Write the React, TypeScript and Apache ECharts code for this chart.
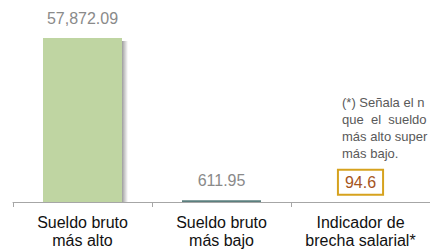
import React, { useEffect, useRef } from "react";
import * as echarts from "echarts";

const categories = ["Sueldo bruto\nmás alto", "Sueldo bruto\nmás bajo", "Indicador de\nbrecha salarial*"];
const values = [57872.09, 611.95, 94.6];
const valueLabels = ["57,872.09", "611.95", "94.6"];
const noteLines = ["(*) Señala el n", "que  el  sueldo", "más alto super", "más bajo."];

const FONT = "'Liberation Sans', Arial, sans-serif";
const BAR_W = 79;

export default function App() {
  const ref = useRef<HTMLDivElement>(null);
  useEffect(() => {
    if (!ref.current) return;
    const chart = echarts.init(ref.current, undefined, { renderer: "svg" });
    const grayLabel = {
      show: true,
      position: "top",
      distance: 12,
      fontSize: 16,
      fontFamily: FONT,
      color: "#8a8a8a",
    };
    chart.setOption({
      animation: false,
      grid: { left: 13, width: 420, top: 38, bottom: 48 },
      xAxis: {
        type: "category",
        data: categories,
        axisLine: { lineStyle: { color: "#a6a6a6", width: 1 } },
        axisTick: { show: true, length: 5, lineStyle: { color: "#a6a6a6" } },
        axisLabel: {
          fontSize: 16,
          fontFamily: FONT,
          color: "#111",
          lineHeight: 18,
          margin: 11,
          interval: 0,
        },
      },
      yAxis: { type: "value", min: 0, max: values[0], show: false, splitLine: { show: false } },
      series: [
        {
          type: "custom",
          z: 1,
          silent: true,
          data: [[0, values[0]]],
          renderItem: (params: any, api: any) => {
            const top = api.coord([api.value(0), api.value(1)]);
            const base = api.coord([api.value(0), 0]);
            const x = top[0] + BAR_W / 2 - 1;
            const y = top[1] + 3;
            return {
              type: "rect",
              shape: { x, y, width: 7, height: base[1] - y },
              style: {
                fill: new echarts.graphic.LinearGradient(0, 0, 1, 0, [
                  { offset: 0, color: "rgba(0,0,0,0.45)" },
                  { offset: 0.5, color: "rgba(0,0,0,0.22)" },
                  { offset: 1, color: "rgba(0,0,0,0)" },
                ]),
              },
            };
          },
        },
        {
          type: "bar",
          z: 2,
          barWidth: BAR_W,
          data: [
            {
              value: values[0],
              itemStyle: { color: "#bfd5a2" },
              label: { ...grayLabel, formatter: valueLabels[0] },
            },
            {
              value: values[1],
              itemStyle: { color: "#5b7f7e" },
              label: { ...grayLabel, formatter: valueLabels[1] },
            },
            {
              value: values[2],
              itemStyle: { color: "rgba(0,0,0,0)" },
              label: {
                show: true,
                position: "top",
                distance: 8,
                formatter: valueLabels[2],
                fontSize: 16,
                fontFamily: FONT,
                color: "#a5541d",
                borderColor: "#d6a21e",
                borderWidth: 2,
                padding: [4, 6, 3, 6],
                backgroundColor: "#fff",
              },
            },
          ],
        },
      ],
      graphic: noteLines.map((t, i) => ({
        type: "text",
        x: 342,
        y: 102 + i * 17,
        style: {
          text: t,
          fontSize: 13,
          fontFamily: FONT,
          fill: "#595959",
          textVerticalAlign: "middle",
          verticalAlign: "middle",
        },
      })),
    });
    return () => chart.dispose();
  }, []);
  return (
    <div
      ref={ref}
      style={{ position: "fixed", left: 0, top: 0, width: 430, height: 250, background: "#fff" }}
    />
  );
}
